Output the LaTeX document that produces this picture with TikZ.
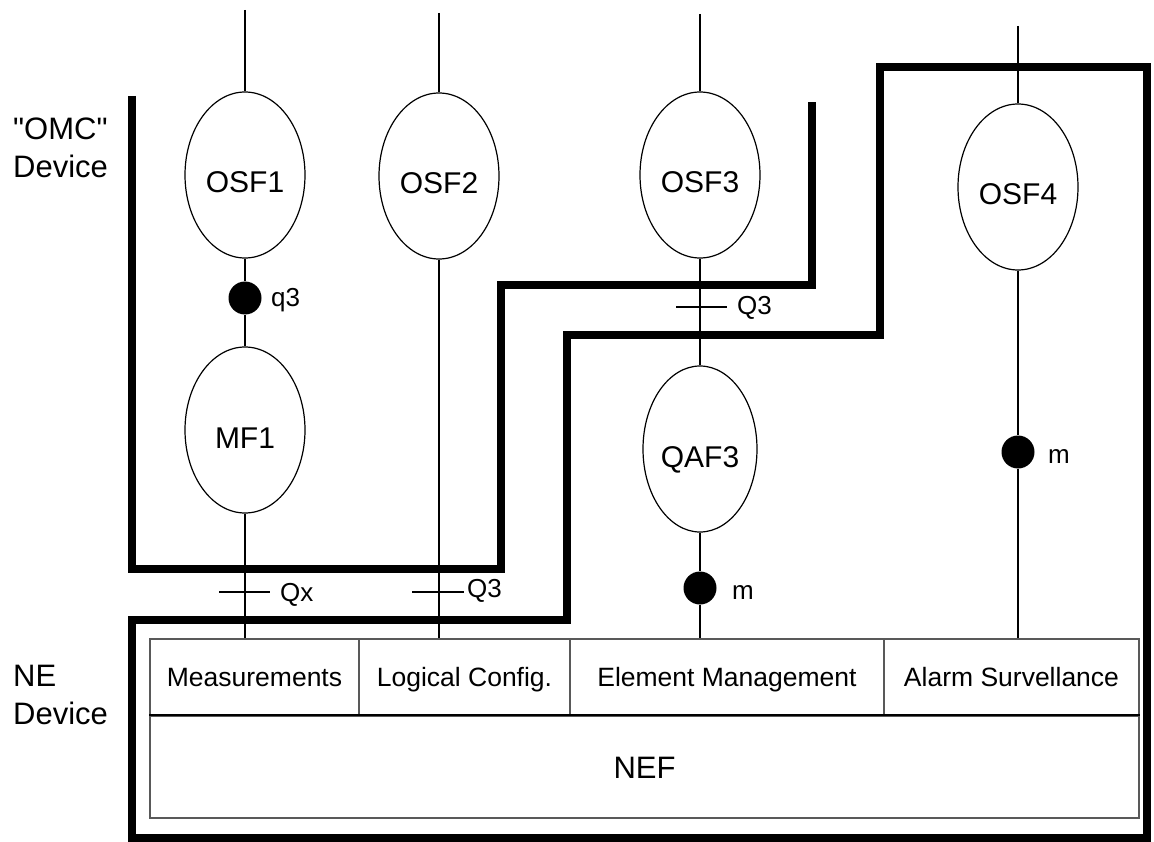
\documentclass[tikz,border=0pt]{standalone}
\usepackage{fontspec}
\setmainfont{Liberation Sans}
\newfontfamily\qf{Liberation Sans}
\usetikzlibrary{shapes.geometric}
\begin{document}
\begin{tikzpicture}[x=1pt,y=-1pt,
  ell/.style={ellipse,draw,line width=1.2pt,minimum width=120pt,minimum height=166pt,inner sep=0pt,text height=36pt,text depth=0pt,font=\fontsize{30}{34}\selectfont},
  dot/.style={circle,fill=black,inner sep=0pt,minimum size=33pt},
  conn/.style={line width=1.8pt},
  bound/.style={line width=8pt,line join=miter},
  lbl/.style={font=\fontsize{26}{30}\selectfont,anchor=west,inner sep=0pt},
  cell/.style={draw=black!65,line width=1.5pt,minimum height=77pt,inner sep=0pt,text height=22pt,text depth=5pt,font=\fontsize{26.5}{30}\selectfont},
  dev/.style={font=\fontsize{31}{38}\selectfont,align=left,anchor=north west,inner sep=0pt}]
\useasboundingbox (0,0) rectangle (1154,842);

% device labels
\node[dev] (omclbl) at (13,118) {{\qf"}OMC{\qf"}\\Device};
\node[dev] (nelbl) at (13,665) {NE\\Device};

% boundaries
\draw[bound] (132,96) -- (132,569) -- (501,569) -- (501,285) -- (812,285) -- (812,102);
\draw[bound] (880,67) -- (1147,67) -- (1147,838) -- (132,838) -- (132,620) -- (567,620) -- (567,335) -- (880,335) -- cycle;

% table
\node[cell,minimum width=209pt] (meas) at (254.5,677.5) {Measurements};
\node[cell,minimum width=211pt] (logc) at (464.5,677.5) {Logical Config.};
\node[cell,minimum width=314pt] (elem) at (727,677.5) {Element Management};
\node[cell,minimum width=255pt] (alarm) at (1011.5,677.5) {Alarm Survellance};
\node[cell,minimum width=989pt,minimum height=102pt,text height=22pt,text depth=0pt,font=\fontsize{31}{34}\selectfont] (nef) at (644.5,767) {NEF};
\draw[line width=2.4pt] (nef.north west) -- (nef.north east);

% ellipses
\node[ell] (osf1) at (245,175) {OSF1};
\node[ell] (osf2) at (439,176) {OSF2};
\node[ell] (osf3) at (700,175) {OSF3};
\node[ell] (osf4) at (1018,187) {OSF4};
\node[ell] (mf1) at (245,430) {MF1};
\node[ell,minimum width=114pt] (qaf3) at (700,449) {QAF3};

% top free ends
\coordinate (t1) at (245,10);
\coordinate (t2) at (439,13);
\coordinate (t3) at (700,14);
\coordinate (t4) at (1018,26);
\draw[conn] (t1) -- (osf1.north);
\draw[conn] (t2) -- (osf2.north);
\draw[conn] (t3) -- (osf3.north);
\draw[conn] (t4) -- (osf4.north);

% dots
\node[dot] (dq3) at (245,298) {};
\node[dot] (dm1) at (700,588) {};
\node[dot] (dm2) at (1018,452) {};

% connectors
\draw[conn] (osf1.south) -- (dq3) -- (mf1.north);
\draw[conn] (mf1.south) -- (mf1.south |- meas.north);
\draw[conn] (osf2.south) -- (osf2.south |- logc.north);
\draw[conn] (osf3.south) -- (qaf3.north);
\draw[conn] (qaf3.south) -- (dm1) -- (dm1 |- elem.north);
\draw[conn] (osf4.south) -- (dm2) -- (dm2 |- alarm.north);

% ticks and labels
\draw[conn] (219,592) -- (270,592);
\draw[conn] (412,592) -- (464,592);
\draw[conn] (676,307) -- (727,307);
\node[lbl] (lq3) at (271,300) {q3};
\node[lbl] (lqx) at (280,595) {Qx};
\node[lbl] (lq3b) at (467,591) {Q3};
\node[lbl] (lq3a) at (737,308) {Q3};
\node[lbl] (lm1) at (732,593) {m};
\node[lbl] (lm2) at (1048,457) {m};
\end{tikzpicture}
\end{document}
